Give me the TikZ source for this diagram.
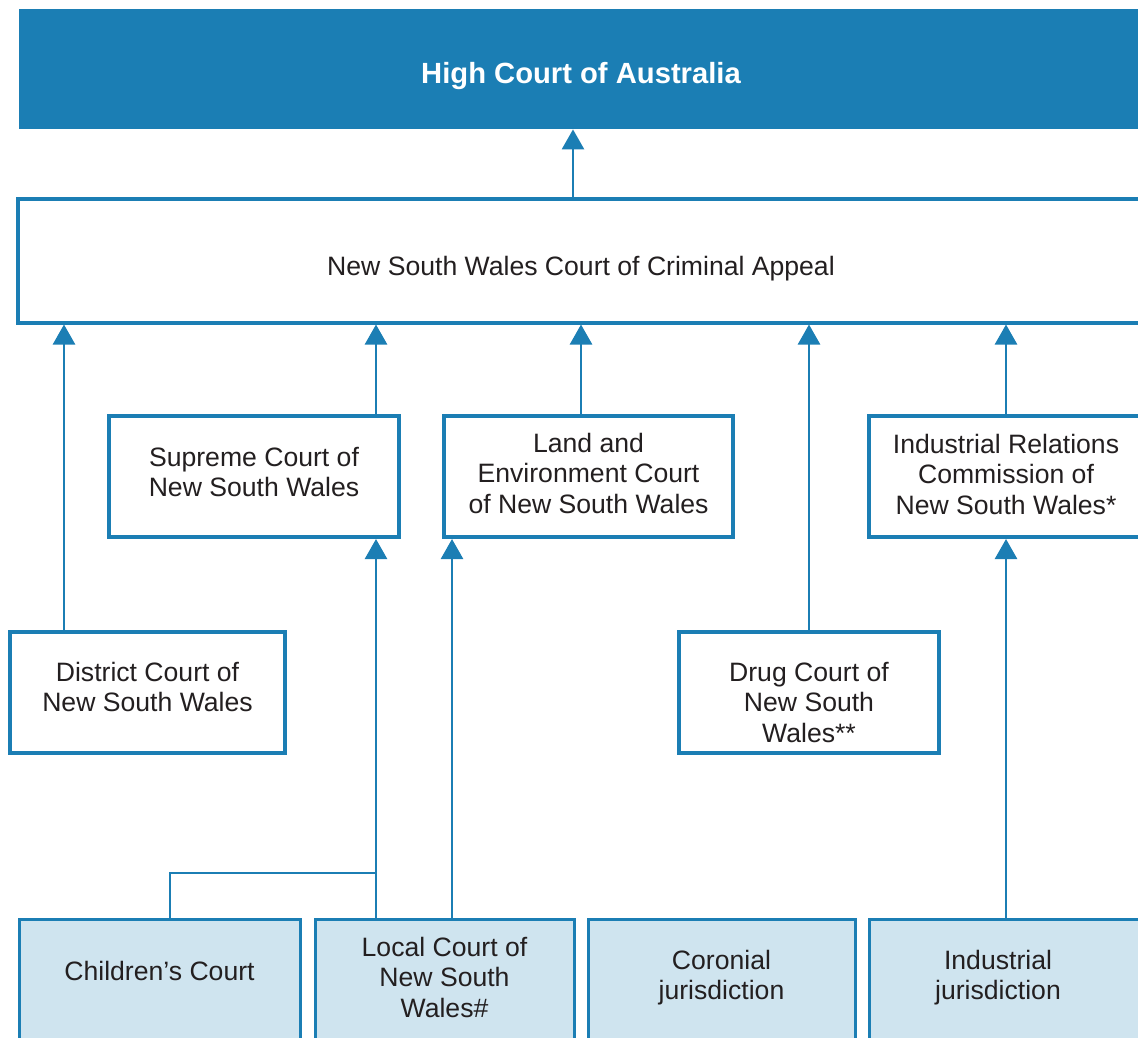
\documentclass[tikz,border=0pt]{standalone}
\usepackage{fontspec}
\setmainfont{Liberation Sans}
\usetikzlibrary{arrows.meta}
\definecolor{cblue}{HTML}{1B7EB4}
\definecolor{clight}{HTML}{CFE4EF}
\definecolor{ctext}{HTML}{231F20}
\begin{document}
\begin{tikzpicture}[x=0.5pt,y=-0.5pt,
  hbox/.style={rectangle, fill=cblue, draw=none, inner sep=0pt},
  htxt/.style={inner sep=0pt, text=white, font=\bfseries\fontsize{14.6}{17}\selectfont},
  wbox/.style={rectangle, draw=cblue, line width=2pt, fill=white, inner sep=0pt},
  lbox/.style={rectangle, draw=cblue, line width=1.5pt, fill=clight, inner sep=0pt},
  txt/.style={inner sep=0pt, align=center, text=ctext, font=\fontsize{13.3}{15.25}\selectfont},
  conn/.style={draw=cblue, line width=1.3pt},
  arr/.style={conn, -{Triangle[width=11pt,length=10pt]}},
]
\useasboundingbox (0,0) rectangle (1138,1037);
\clip (0,0) rectangle (1138,1037);

% top
\node[hbox, minimum width=563pt, minimum height=60pt] (hc) at (582,69) {};
\node[htxt] (hct) at (581,76) {High Court of Australia};
\node[wbox, minimum width=564pt, minimum height=61.5pt] (cca) at (582,261) {};
\node[txt] (ccat) at (581,269) {New South Wales Court of Criminal Appeal};

% middle row
\node[wbox, minimum width=145pt, minimum height=60.5pt] (sup) at (254,476.5) {};
\node[txt] (supt) at (254,472) {Supreme Court of\\New South Wales};
\node[wbox, minimum width=144.5pt, minimum height=60.5pt] (land) at (588.5,476.5) {};
\node[txt] (landt) at (588.5,473) {Land and\\Environment Court\\of New South Wales};
\node[wbox, minimum width=138.5pt, minimum height=60.5pt] (irc) at (1007.5,476.5) {};
\node[txt] (irct) at (1006,474) {Industrial Relations\\Commission of\\New South Wales*};

% lower row
\node[wbox, minimum width=137.5pt, minimum height=60.5pt] (dist) at (147.5,692.5) {};
\node[txt] (distt) at (147.5,687) {District Court of\\New South Wales};
\node[wbox, minimum width=130pt, minimum height=60.5pt] (drug) at (809,692.5) {};
\node[txt] (drugt) at (809,702) {Drug Court of\\New South\\Wales**};

% bottom row
\node[lbox, minimum width=140.5pt, minimum height=63pt] (child) at (159.5,982) {};
\node[txt] (childt) at (159.5,971) {Children’s Court};
\node[lbox, minimum width=129.5pt, minimum height=63pt] (local) at (444.5,982) {};
\node[txt] (localt) at (444.5,977) {Local Court of\\New South\\Wales\#};
\node[lbox, minimum width=133.5pt, minimum height=63pt] (coron) at (721.5,982) {};
\node[txt] (coront) at (721.5,977.5) {Coronial\\jurisdiction};
\node[lbox, minimum width=138.5pt, minimum height=63pt] (indj) at (1007.5,982) {};
\node[txt] (indjt) at (998,977.5) {Industrial\\jurisdiction};

% connector x positions
\coordinate (x64) at (64,0);
\coordinate (x170) at (170,0);
\coordinate (x376) at (376,0);
\coordinate (x452) at (452,0);
\coordinate (x573) at (573,0);
\coordinate (x581) at (581,0);
\coordinate (x809) at (809,0);
\coordinate (x1006) at (1006,0);
\coordinate (join) at (376,873);

\draw[arr] (cca.north -| x573) -- (hc.south -| x573);
\draw[arr] (dist.north -| x64) -- (cca.south -| x64);
\draw[arr] (sup.north -| x376) -- (cca.south -| x376);
\draw[arr] (land.north -| x581) -- (cca.south -| x581);
\draw[arr] (drug.north -| x809) -- (cca.south -| x809);
\draw[arr] (irc.north -| x1006) -- (cca.south -| x1006);
\draw[arr] (local.north -| x376) -- (sup.south -| x376);
\draw[conn] (child.north -| x170) |- (join);
\draw[arr] (local.north -| x452) -- (land.south -| x452);
\draw[arr] (indj.north -| x1006) -- (irc.south -| x1006);
\end{tikzpicture}
\end{document}
